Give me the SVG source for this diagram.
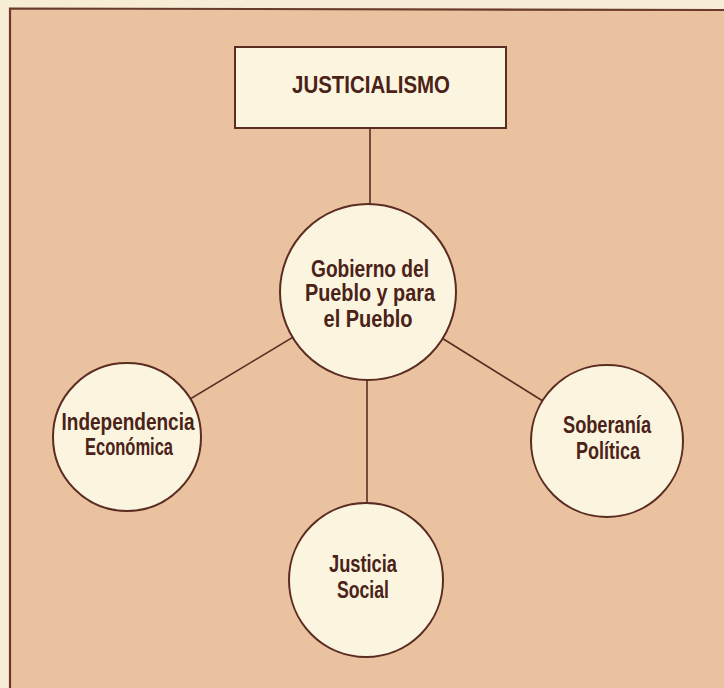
<svg xmlns="http://www.w3.org/2000/svg" width="724" height="688" viewBox="0 0 724 688">
<style>
.node{fill:#fbf4df;stroke:#5a2c22;stroke-width:2}
.conn{stroke:#5a2c22;stroke-width:1.6;fill:none}
.t{font-family:"Liberation Sans",Arial,sans-serif;font-weight:bold;font-size:23.5px;fill:#4a2218;text-anchor:middle}
</style>
<rect x="0" y="0" width="724" height="688" fill="#f7ecd6"/>
<rect x="10" y="9" width="714" height="679" fill="#ebc29f"/>
<path d="M10,688 L10,8.5 L724,10" fill="none" stroke="#6a3a2a" stroke-width="2.2"/>
<g id="connectors">
<line class="conn" x1="370" y1="128" x2="370" y2="206"/>
<line class="conn" x1="368" y1="292" x2="127" y2="437"/>
<line class="conn" x1="368" y1="292" x2="607" y2="441"/>
<line class="conn" x1="367" y1="292" x2="367" y2="504"/>
</g>
<g id="justicialismo">
<rect class="node" x="235" y="47" width="271" height="81"/>
<text class="t" x="371" y="93" textLength="158" lengthAdjust="spacingAndGlyphs">JUSTICIALISMO</text>
</g>
<g id="gobierno">
<circle class="node" cx="368" cy="292" r="88"/>
<text class="t" x="370" y="277" textLength="118" lengthAdjust="spacingAndGlyphs">Gobierno del</text>
<text class="t" x="370" y="301" textLength="130" lengthAdjust="spacingAndGlyphs">Pueblo y para</text>
<text class="t" x="368" y="327" textLength="89" lengthAdjust="spacingAndGlyphs">el Pueblo</text>
</g>
<g id="independencia">
<circle class="node" cx="127" cy="437" r="74"/>
<text class="t" x="128" y="430" textLength="133" lengthAdjust="spacingAndGlyphs">Independencia</text>
<text class="t" x="129" y="455" textLength="88" lengthAdjust="spacingAndGlyphs">Económica</text>
</g>
<g id="soberania">
<circle class="node" cx="607" cy="441" r="76"/>
<text class="t" x="607" y="433" textLength="88" lengthAdjust="spacingAndGlyphs">Soberanía</text>
<text class="t" x="608" y="459" textLength="64" lengthAdjust="spacingAndGlyphs">Política</text>
</g>
<g id="justicia">
<circle class="node" cx="366" cy="580" r="77"/>
<text class="t" x="363" y="572" textLength="68" lengthAdjust="spacingAndGlyphs">Justicia</text>
<text class="t" x="363" y="598" textLength="52" lengthAdjust="spacingAndGlyphs">Social</text>
</g>
</svg>
